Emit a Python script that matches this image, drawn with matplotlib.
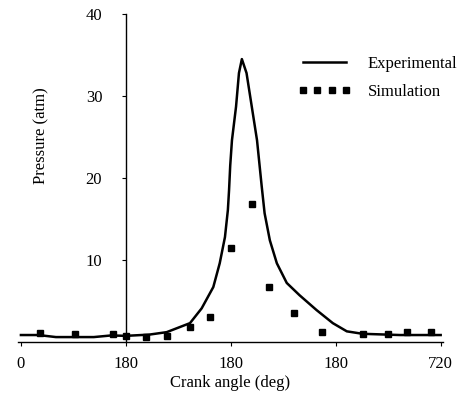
import matplotlib
matplotlib.use("Agg")
import matplotlib.pyplot as plt

plt.rcParams['font.family'] = ['Liberation Serif', 'DejaVu Serif']

# experimental pressure trace
exp_angle = [0, 30, 60, 90, 125, 155, 180, 220, 250, 290, 310, 330, 341, 350, 355,
             357, 359, 362, 369, 374, 379, 387, 396, 405, 413, 418, 427, 439, 456, 478,
             507, 535, 559, 586, 650, 720]
exp_p = [0.85, 0.85, 0.6, 0.6, 0.6, 0.8, 0.75, 0.9, 1.2, 2.3, 4.1, 6.7, 9.6, 12.8, 16.1,
         18.5, 21.5, 24.6, 28.7, 32.8, 34.5, 32.8, 28.7, 24.6, 19.0, 15.7, 12.4, 9.6, 7.2, 5.7,
         3.9, 2.3, 1.3, 1.0, 0.85, 0.85]

# simulation points
sim_angle = [32, 92, 158, 180, 214, 250, 290, 325, 360, 396, 425, 468, 516, 586, 629, 662, 703]
sim_p = [1.1, 1.0, 1.0, 0.7, 0.6, 0.7, 1.8, 3.0, 11.5, 16.8, 6.7, 3.5, 1.2, 1.0, 1.0, 1.2, 1.2]

xticks = [0, 180, 360, 540, 720]
xtick_labels = ['0', '180', '180', '180', '720']
yticks = [10, 20, 30, 40]

fig = plt.figure(figsize=(4.63, 4.01), dpi=100)
ax = fig.add_axes([18/463, 59/401, 425/463, 328/401])

ax.plot(exp_angle, exp_p, color='black', lw=1.8, label='Experimental')
ax.plot(sim_angle, sim_p, ls='none', marker='s', ms=4.5, color='black', label='Simulation')

ax.set_xlim(-5, 724)
ax.set_ylim(0, 40)
ax.spines['top'].set_visible(False)
ax.spines['right'].set_visible(False)
ax.spines['left'].set_position(('data', 180))
ax.spines['left'].set_linewidth(1.0)
ax.spines['bottom'].set_linewidth(1.0)

ax.set_xticks(xticks)
ax.set_xticklabels(xtick_labels)
ax.set_yticks(yticks)
ax.tick_params(axis='x', direction='out', length=3, pad=7, labelsize=12)
ax.tick_params(axis='y', direction='out', length=3, pad=14, labelsize=12)

ax.set_xlabel('Crank angle (deg)', fontsize=12, labelpad=2)
ax.set_ylabel('Pressure (atm)', fontsize=12)
ax.yaxis.set_label_coords(0.073, 0.63)

ax.legend(loc='upper left', bbox_to_anchor=(298/463, 1 - 56/401),
          bbox_transform=fig.transFigure, frameon=False, fontsize=12,
          handlelength=3.2, handletextpad=1.0, labelspacing=0.7,
          borderpad=0, borderaxespad=0, numpoints=4)

fig.savefig('out.png', dpi=100)
